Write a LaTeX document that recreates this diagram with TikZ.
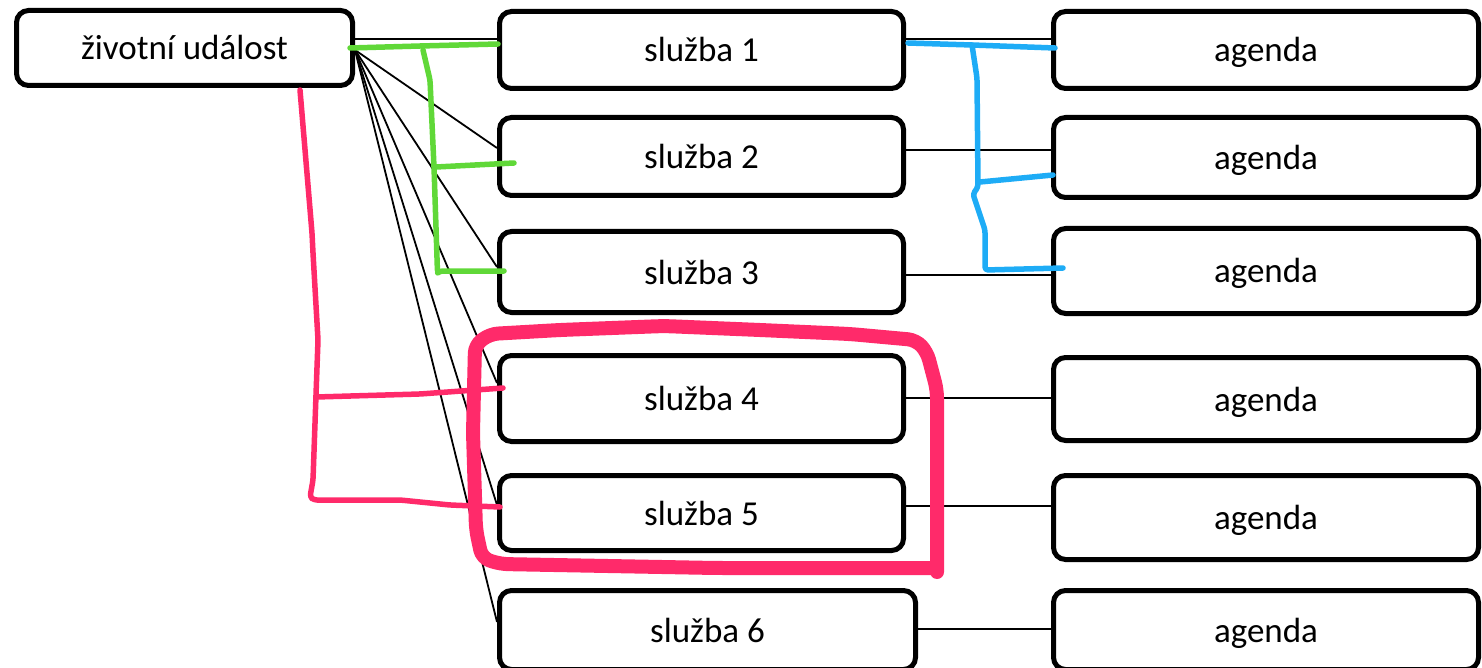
\documentclass[tikz,border=0pt]{standalone}
\usepackage{fontspec}
\setmainfont{Carlito}
\definecolor{hgreen}{RGB}{96,216,56}
\definecolor{hblue}{RGB}{30,172,246}
\definecolor{hpink}{RGB}{255,42,106}
\begin{document}
\begin{tikzpicture}[x=1pt,y=-1pt,
  box/.style={draw, line width=5pt, rounded corners=12pt, inner sep=0pt,
    text height=24pt, text depth=0pt,
    font=\fontsize{35}{40}\selectfont, fill=white},
  conn/.style={line width=1.8pt},
  hand/.style={line width=5.5pt, line cap=round, line join=round, rounded corners=3pt},
  thick hand/.style={line width=14pt, line cap=round, line join=round, rounded corners=8pt}]
\useasboundingbox (0,0) rectangle (1482,668);

% nodes
\node[box, minimum width=336pt, minimum height=75pt] (zu) at (184.5,48) {životní událost};
\node[box, minimum width=404pt, minimum height=77pt] (s1) at (701.5,50) {služba 1};
\node[box, minimum width=404pt, minimum height=78pt] (s2) at (701.5,156.5) {služba 2};
\node[box, minimum width=404pt, minimum height=81pt] (s3) at (701.5,272) {služba 3};
\node[box, minimum width=404pt, minimum height=86pt] (s4) at (701.5,398.5) {služba 4};
\node[box, minimum width=404pt, minimum height=75pt] (s5) at (701.5,513) {služba 5};
\node[box, minimum width=416pt, minimum height=79pt] (s6) at (707.5,630) {služba 6};
\node[box, minimum width=425pt, minimum height=77pt] (a1) at (1266,50) {agenda};
\node[box, minimum width=425pt, minimum height=80pt] (a2) at (1266,157.5) {agenda};
\node[box, minimum width=425pt, minimum height=85pt] (a3) at (1266,271) {agenda};
\node[box, minimum width=425pt, minimum height=83pt] (a4) at (1266,399) {agenda};
\node[box, minimum width=425pt, minimum height=84pt] (a5) at (1266,517.5) {agenda};
\node[box, minimum width=425pt, minimum height=79pt] (a6) at (1266,630) {agenda};

% connectors
\draw[conn] (zu.east |- 0,39) -- (s1.west |- 0,39);
\draw[conn] (zu.east |- 0,50) -- (s2.west |- 0,148);
\draw[conn] (zu.east |- 0,50) -- (s3.west |- 0,267);
\draw[conn] (zu.east |- 0,50) -- (s4.west |- 0,383);
\draw[conn] (zu.east |- 0,50) -- (s5.west |- 0,505);
\draw[conn] (zu.east |- 0,50) -- (s6.west |- 0,622);
\draw[conn] (s1.east |- 0,39) -- (a1.west |- 0,39);
\draw[conn] (s2.east |- 0,150) -- (a2.west |- 0,150);
\draw[conn] (s3.east |- 0,275) -- (a3.west |- 0,275);
\draw[conn] (s4.east |- 0,398) -- (a4.west |- 0,398);
\draw[conn] (s5.east |- 0,506) -- (a5.west |- 0,506);
\draw[conn] (s6.east |- 0,629) -- (a6.west |- 0,629);

% green bracket
\draw[hand, hgreen] (350,48) -- (420,46) -- (498,44);
\draw[hand, hgreen] (423,50) -- (430,80) -- (434,167) -- (437.5,273) -- (440,271) -- (504,271);
\draw[hand, hgreen] (436,167) -- (514,163);

% blue bracket
\draw[hand, hblue] (908,43) -- (972,45) -- (1055,48);
\draw[hand, hblue] (972,45) -- (977,78) -- (978,187) -- (973,194) -- (985,230) -- (985,270) -- (1063,268);
\draw[hand, hblue] (980,182) -- (1053,175);

% pink bracket
\draw[hand, hpink] (300,90) -- (312,233) -- (313,253) -- (318,340) -- (316,395) -- (313,480) -- (310,497) -- (314,500) -- (400,500) -- (450,505) -- (500,507);
\draw[hand, hpink] (316,397) -- (420,394) -- (503,388);

% pink rectangle
\draw[thick hand, hpink] (937,572) -- (937,390) -- (927,352) -- (916,340) -- (850,334) -- (760,330) -- (664,326) -- (560,330) -- (490,334) -- (475,345) -- (473,433) -- (476,530) -- (482,558) -- (500,564) -- (716,568) -- (935,568);
\end{tikzpicture}
\end{document}
